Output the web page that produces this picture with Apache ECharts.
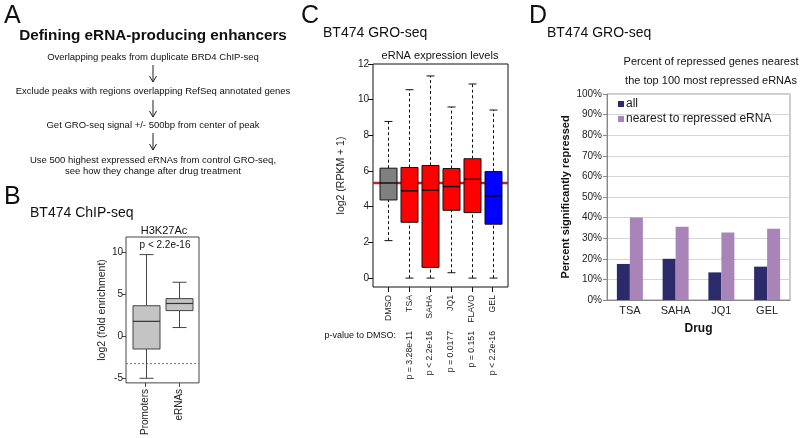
<!DOCTYPE html>
<html><head><meta charset="utf-8">
<script src="https://cdn.jsdelivr.net/npm/echarts@6/dist/echarts.min.js"></script>
<style>html,body{margin:0;padding:0;background:#fff}#c{width:800px;height:438px}</style>
</head><body><div id="c"></div><script>
const FONT = '"Liberation Sans", Arial, Helvetica, sans-serif';

// ---------- Panel A ----------
const aTitle = 'Defining eRNA-producing enhancers';
const aSteps = [
  'Overlapping peaks from duplicate BRD4 ChIP-seq',
  'Exclude peaks with regions overlapping RefSeq annotated genes',
  'Get GRO-seq signal +/- 500bp from center of peak',
  'Use 500 highest expressed eRNAs from control GRO-seq,\nsee how they change after drug treatment'
];

// ---------- Panel B ----------
const bCategories = ['Promoters', 'eRNAs'];
const bLow    = [-5.05, 1.0];
const bQ1     = [-1.56, 3.02];
const bMedian = [1.74, 3.87];
const bQ3     = [3.6, 4.45];
const bHigh   = [9.7, 6.4];
const bThreshold = -3.3;
const bYTicks = [-5, 0, 5, 10];

// ---------- Panel C ----------
const cCategories = ['DMSO', 'TSA', 'SAHA', 'JQ1', 'FLAVO', 'GEL'];
const cLow    = [2.1, 0, 0, 0.3, 0, 0];
const cQ1     = [4.38, 3.13, 0.6, 3.8, 3.67, 3.02];
const cMedian = [5.33, 4.89, 4.93, 5.13, 5.54, 4.6];
const cQ3     = [6.16, 6.2, 6.31, 6.14, 6.69, 5.97];
const cHigh   = [8.78, 10.56, 11.33, 9.59, 10.88, 9.42];
const cPValues = ['', 'p = 3.28e-11', 'p < 2.2e-16', 'p = 0.0177', 'p = 0.151', 'p < 2.2e-16'];
const cYTicks = [0, 2, 4, 6, 8, 10, 12];
const cReference = 5.33;

// ---------- Panel D ----------
const dCategories = ['TSA', 'SAHA', 'JQ1', 'GEL'];
const dAll     = [0.175, 0.20, 0.134, 0.162];
const dNearest = [0.40, 0.356, 0.328, 0.346];

// ---------- helpers ----------
function makeBoxRender(cfg) {
  return function (params, api) {
    const x = api.value(0);
    const lo = api.coord([x, api.value(1)]);
    const q1 = api.coord([x, api.value(2)]);
    const md = api.coord([x, api.value(3)]);
    const q3 = api.coord([x, api.value(4)]);
    const hi = api.coord([x, api.value(5)]);
    const cx = Math.round(md[0]) + 0.5;
    const hw = cfg.boxW / 2, cw = cfg.capW / 2;
    const ws = { stroke: cfg.whisker, lineWidth: 1, lineDash: cfg.dash || null };
    const cs = { stroke: cfg.whisker, lineWidth: 1 };
    return {
      type: 'group',
      children: [
        { type: 'line', shape: { x1: cx, y1: q3[1], x2: cx, y2: hi[1] }, style: ws },
        { type: 'line', shape: { x1: cx, y1: lo[1], x2: cx, y2: q1[1] }, style: ws },
        { type: 'line', shape: { x1: cx - cw, y1: hi[1], x2: cx + cw, y2: hi[1] }, style: cs },
        { type: 'line', shape: { x1: cx - cw, y1: lo[1], x2: cx + cw, y2: lo[1] }, style: cs },
        { type: 'rect', shape: { x: cx - hw, y: q3[1], width: cfg.boxW, height: q1[1] - q3[1] },
          style: { fill: cfg.fill[params.dataIndex], stroke: cfg.border, lineWidth: 1 } },
        { type: 'line', shape: { x1: cx - hw, y1: md[1], x2: cx + hw, y2: md[1] },
          style: { stroke: cfg.median, lineWidth: cfg.medW } }
      ]
    };
  };
}
function txt(x, y, text, size, opts) {
  opts = opts || {};
  return {
    type: 'text', x: x, y: y, silent: true,
    style: {
      text: text, fontSize: size, fontFamily: FONT, fontWeight: opts.bold ? 'bold' : 'normal',
      fill: opts.color || '#111', align: opts.align || 'center', verticalAlign: 'middle',
      lineHeight: opts.lineHeight || size * 1.15
    }
  };
}
function arrow(x, y1, y2) {
  return [
    { type: 'line', silent: true, shape: { x1: x, y1: y1, x2: x, y2: y2 }, style: { stroke: '#222', lineWidth: 1 } },
    { type: 'polyline', silent: true, shape: { points: [[x - 3.5, y2 - 6], [x, y2], [x + 3.5, y2 - 6]] },
      style: { stroke: '#222', lineWidth: 1, fill: null } }
  ];
}

const bData = bCategories.map((c, i) => [i + 1, bLow[i], bQ1[i], bMedian[i], bQ3[i], bHigh[i]]);
const cData = cCategories.map((c, i) => [i + 1, cLow[i], cQ1[i], cMedian[i], cQ3[i], cHigh[i]]);
const cFill = ['#808080', '#ff0000', '#ff0000', '#ff0000', '#ff0000', '#0000ff'];
const bFill = ['#c4c4c4', '#c4c4c4'];

const graphic = [
  txt(4, 16, 'A', 25, { align: 'left' }),
  txt(153, 36, aTitle, 15.3, { bold: true }),
  txt(153, 57, aSteps[0], 9.5),
  txt(153, 91, aSteps[1], 9.5),
  txt(153, 125, aSteps[2], 9.5),
  txt(153, 165.5, aSteps[3], 9.5, { lineHeight: 11 }),
  ...arrow(153, 65, 82),
  ...arrow(153, 100, 117),
  ...arrow(153, 133, 150),
  txt(4, 197, 'B', 25, { align: 'left' }),
  txt(30, 213, 'BT474 ChIP-seq', 14, { align: 'left' }),
  txt(164, 231, 'H3K27Ac', 11),
  txt(165, 245, 'p < 2.2e-16', 10),
  txt(301, 16, 'C', 25, { align: 'left' }),
  txt(323, 33, 'BT474 GRO-seq', 14, { align: 'left' }),
  txt(440, 56, 'eRNA expression levels', 11),
  txt(396, 336, 'p-value to DMSO:', 9, { align: 'right' }),
  txt(529, 16, 'D', 25, { align: 'left' }),
  txt(547, 33, 'BT474 GRO-seq', 14, { align: 'left' }),
  txt(711, 62, 'Percent of repressed genes nearest', 11),
  txt(711, 81, 'the top 100 most repressed eRNAs', 11)
];

const lab = { fontFamily: FONT, color: '#222' };

const option = {
  animation: false,
  backgroundColor: '#fff',
  textStyle: { fontFamily: FONT },
  graphic: graphic,
  grid: [
    { left: 126, top: 237, width: 73, height: 150, show: true, borderColor: '#444', borderWidth: 1 },
    { left: 373, top: 64, width: 135, height: 223, show: true, borderColor: '#111', borderWidth: 1 },
    { left: 607, top: 94, width: 183, height: 206, show: true, borderColor: '#999', borderWidth: 1 }
  ],
  legend: {
    left: 613, top: 93, orient: 'vertical', icon: 'rect', itemWidth: 6, itemHeight: 6, itemGap: 3,
    textStyle: { fontSize: 12, fontFamily: FONT, color: '#222', padding: [0, 0, 0, -3] },
    data: ['all', 'nearest to repressed eRNA']
  },
  xAxis: [
    { gridIndex: 0, type: 'value', min: 0.42, max: 2.58, axisLine: { show: false, onZero: false }, splitLine: { show: false },
      axisTick: { customValues: [1, 2], length: 4, lineStyle: { color: '#444' } },
      axisLabel: Object.assign({ customValues: [1, 2], formatter: v => bCategories[v - 1], rotate: 90, fontSize: 10, margin: 6 }, lab) },
    { gridIndex: 1, type: 'value', min: 0.26, max: 6.74, axisLine: { show: false, onZero: false }, splitLine: { show: false },
      axisTick: { customValues: [1, 2, 3, 4, 5, 6], length: 5, lineStyle: { color: '#111' } },
      axisLabel: Object.assign({ customValues: [1, 2, 3, 4, 5, 6], formatter: v => cCategories[v - 1], rotate: 90, fontSize: 8.7, margin: 8 }, lab) },
    { gridIndex: 1, type: 'value', min: 0.26, max: 6.74, position: 'bottom', offset: 40,
      axisLine: { show: false, onZero: false }, axisTick: { show: false }, splitLine: { show: false },
      axisLabel: Object.assign({ customValues: [2, 3, 4, 5, 6], formatter: v => cPValues[v - 1], rotate: 90, fontSize: 8.7, margin: 4 }, lab) },
    { gridIndex: 2, type: 'category', data: dCategories,
      axisLine: { show: true, lineStyle: { color: '#888' } }, axisTick: { show: false },
      axisLabel: Object.assign({ fontSize: 11, margin: 5 }, lab),
      name: 'Drug', nameLocation: 'middle', nameGap: 23,
      nameTextStyle: { fontSize: 12, fontWeight: 'bold', fontFamily: FONT, color: '#111' } }
  ],
  yAxis: [
    { gridIndex: 0, type: 'value', min: -5.6, max: 11.8, axisLine: { show: false, onZero: false }, splitLine: { show: false },
      axisTick: { customValues: bYTicks, length: 4, lineStyle: { color: '#444' } },
      axisLabel: Object.assign({ customValues: bYTicks, fontSize: 10, margin: 3 }, lab),
      name: 'log2 (fold enrichment)', nameLocation: 'middle', nameGap: 18,
      nameTextStyle: { fontSize: 10.5, fontFamily: FONT, color: '#222' } },
    { gridIndex: 1, type: 'value', min: -0.5, max: 12, axisLine: { show: false, onZero: false }, splitLine: { show: false },
      axisTick: { customValues: cYTicks, length: 5, lineStyle: { color: '#111' } },
      axisLabel: Object.assign({ customValues: cYTicks, fontSize: 10, margin: 4 }, lab),
      name: 'log2 (RPKM + 1)', nameLocation: 'middle', nameGap: 26,
      nameTextStyle: { fontSize: 10.5, fontFamily: FONT, color: '#222' } },
    { gridIndex: 2, type: 'value', min: 0, max: 1, interval: 0.1,
      axisLine: { show: true, lineStyle: { color: '#888' } },
      axisTick: { show: true, length: 4, lineStyle: { color: '#888' } },
      splitLine: { show: true, lineStyle: { color: '#d4d4d4', width: 1 } },
      axisLabel: Object.assign({ formatter: v => Math.round(v * 100) + '%', fontSize: 10, margin: 5 }, lab),
      name: 'Percent significantly repressed', nameLocation: 'middle', nameGap: 36,
      nameTextStyle: { fontSize: 11, fontWeight: 'bold', fontFamily: FONT, color: '#111' } }
  ],
  series: [
    { type: 'line', xAxisIndex: 0, yAxisIndex: 0, silent: true, symbol: 'none', z: 1,
      data: [[0.42, bThreshold], [2.58, bThreshold]],
      lineStyle: { color: '#777', width: 1, type: [2, 2] } },
    { type: 'custom', xAxisIndex: 0, yAxisIndex: 0, z: 2, data: bData, encode: { x: 0, y: [1, 2, 3, 4, 5] },
      renderItem: makeBoxRender({ boxW: 27, capW: 14, whisker: '#444', border: '#444', median: '#333', medW: 1.2, fill: bFill }) },
    { type: 'line', xAxisIndex: 1, yAxisIndex: 1, silent: true, symbol: 'none', z: 1,
      data: [[0.26, cReference], [6.74, cReference]],
      lineStyle: { color: '#b5282e', width: 2.5 } },
    { type: 'custom', xAxisIndex: 1, yAxisIndex: 1, z: 2, data: cData, encode: { x: 0, y: [1, 2, 3, 4, 5] },
      renderItem: makeBoxRender({ boxW: 17, capW: 8, whisker: '#111', border: '#111', median: '#000', medW: 1.3, dash: [3, 2.5], fill: cFill }) },
    { name: 'all', type: 'bar', xAxisIndex: 3, yAxisIndex: 2, data: dAll, barWidth: 13, barGap: '0%',
      itemStyle: { color: '#2c2a6b' } },
    { name: 'nearest to repressed eRNA', type: 'bar', xAxisIndex: 3, yAxisIndex: 2, data: dNearest, barWidth: 13, barGap: '0%',
      itemStyle: { color: '#a884b8' } }
  ]
};

const chart = echarts.init(document.getElementById('c'), null, { renderer: 'canvas' });
chart.setOption(option);
</script></body></html>
